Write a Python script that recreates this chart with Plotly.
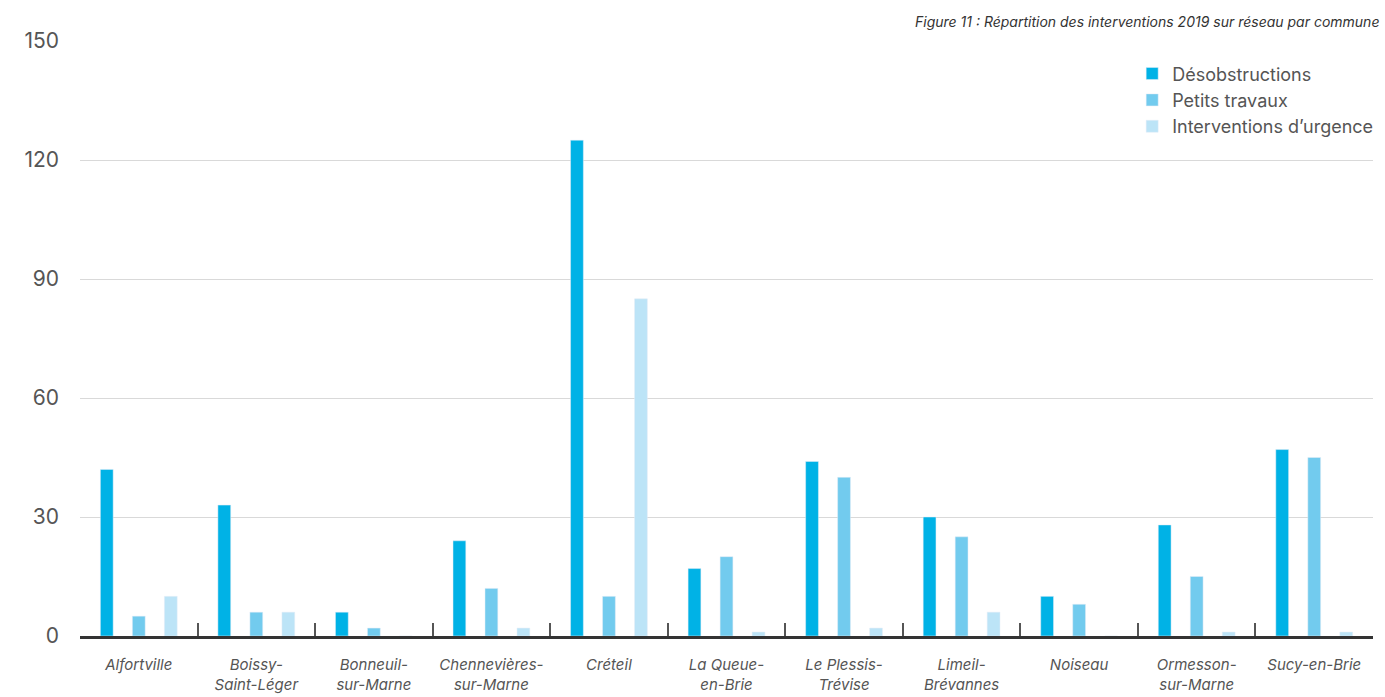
import plotly.graph_objects as go

communes = ["Alfortville", "Boissy-<br>Saint-Léger", "Bonneuil-<br>sur-Marne", "Chennevières-<br>sur-Marne",
            "Créteil", "La Queue-<br>en-Brie", "Le Plessis-<br>Trévise", "Limeil-<br>Brévannes",
            "Noiseau", "Ormesson-<br>sur-Marne", "Sucy-en-Brie"]
desobstructions = [42, 33, 6, 24, 125, 17, 44, 30, 10, 28, 47]
petits_travaux = [5, 6, 2, 12, 10, 20, 40, 25, 8, 15, 45]
urgence = [10, 6, 0, 2, 85, 1, 2, 6, 0, 1, 1]
y_ticks = [0, 30, 60, 90, 120, 150]

FONT = "Inter, Lato, Roboto, sans-serif"
xs = list(range(len(communes)))

fig = go.Figure()
fig.add_trace(go.Bar(x=xs, y=desobstructions, name="Désobstructions", marker_color="#00B2E6"))
fig.add_trace(go.Bar(x=xs, y=petits_travaux, name="Petits travaux", marker_color="#72CBEE"))
fig.add_trace(go.Bar(x=xs, y=urgence, name="Interventions d’urgence", marker_color="#BCE4F7"))
# invisible trace for the boundary-tick axis
fig.add_trace(go.Scatter(x=[-0.5, 10.5], y=[0, 0], xaxis="x2", mode="markers",
                         marker=dict(opacity=0), showlegend=False, hoverinfo="skip"))

fig.update_layout(
    width=1385, height=697,
    margin=dict(l=80, r=12, t=41, b=61, autoexpand=False),
    paper_bgcolor="white", plot_bgcolor="white",
    barmode="group", bargap=0.183, bargroupgap=0.6,
    font=dict(family=FONT, color="#555555"),
    xaxis=dict(
        range=[-0.5, 10.5], tickvals=xs, ticktext=communes,
        tickfont=dict(size=15, style="italic", color="#555555"),
        ticks="", showgrid=False, showline=True, linecolor="#333333", linewidth=3,
        ticklabelstandoff=13, zeroline=False, automargin=False,
    ),
    xaxis2=dict(
        overlaying="x", range=[-0.5, 10.5], tickvals=[i + 0.5 for i in range(10)],
        ticks="inside", ticklen=13, tickwidth=2, tickcolor="#555555",
        showticklabels=False, showgrid=False, zeroline=False, showline=False,
        side="bottom", anchor="y", automargin=False,
    ),
    yaxis=dict(
        range=[0, 150], tickvals=y_ticks, showgrid=True, gridcolor="#D9D9D9", gridwidth=1,
        zeroline=False, showline=False, ticks="", automargin=False,
        tickfont=dict(size=21, color="#555555"), ticklabelstandoff=20,
    ),
    legend=dict(
        x=1.004, xanchor="right", y=0.976, yanchor="top",
        font=dict(size=18, color="#555555"), bgcolor="rgba(0,0,0,0)",
        tracegroupgap=0, itemwidth=30,
    ),
    annotations=[dict(
        text="Figure 11 : Répartition des interventions 2019 sur réseau par commune",
        xref="paper", yref="paper", x=1.006, y=1.0, yshift=20, xanchor="right", yanchor="middle",
        showarrow=False, font=dict(size=14, style="italic", color="#333333"),
    )],
)

fig.write_html("out.html")
